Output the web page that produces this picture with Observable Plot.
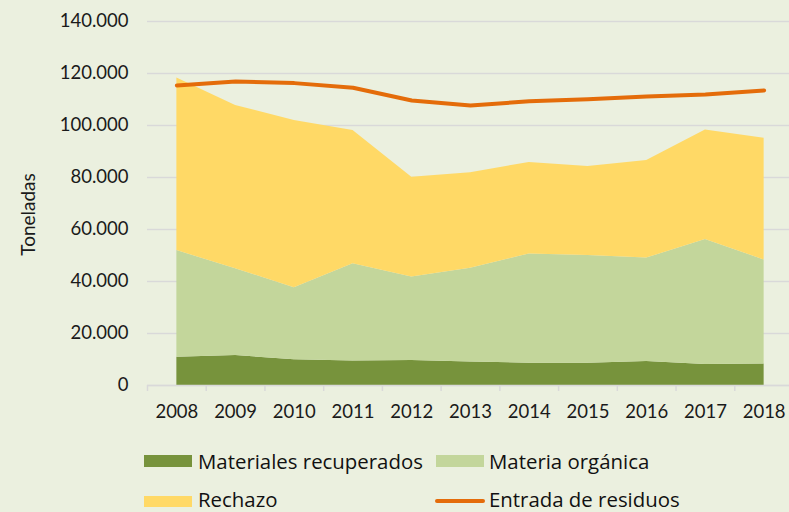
<!DOCTYPE html>
<html><head><meta charset="utf-8">
<script src="https://cdn.jsdelivr.net/npm/d3@7"></script>
<script src="https://cdn.jsdelivr.net/npm/@observablehq/plot@0.6"></script>
<style>
html,body{margin:0;padding:0;background:#ebf0df;overflow:hidden}
#wrap{position:relative;width:789px;height:512px;background:#ebf0df;overflow:hidden}
#wrap svg{position:absolute;left:0;top:0}
.lg{position:absolute;height:20px;line-height:20px;font-family:"Open Sans";font-size:20.4px;color:#111;white-space:nowrap}
.sw{position:absolute}
</style></head><body><div id="wrap"></div>
<script>
const years = [2008, 2009, 2010, 2011, 2012, 2013, 2014, 2015, 2016, 2017, 2018];
const recuperados = [10900, 11500, 9900, 9400, 9600, 9000, 8600, 8600, 9200, 8100, 8300];
const organica = [41000, 33400, 27700, 37400, 32100, 36100, 42000, 41400, 39800, 48100, 40000];
const rechazo = [66400, 62800, 64300, 51300, 38400, 36700, 35200, 34200, 37500, 42100, 46800];
const entrada = [115400, 116900, 116300, 114500, 109600, 107700, 109300, 110100, 111200, 111900, 113500];
const seriesNames = ["Materiales recuperados", "Materia orgánica", "Rechazo"];
const seriesColors = ["#77933c", "#c3d69b", "#ffd966"];
const lineName = "Entrada de residuos";
const lineColor = "#e46c0a";
const yTicks = [0, 20000, 40000, 60000, 80000, 100000, 120000, 140000];
const yTitle = "Toneladas";

const fmt = d3.formatLocale({decimal: ",", thousands: ".", grouping: [3], currency: ["", "€"]}).format(",");
const seriesValues = [recuperados, organica, rechazo];
const long = [];
seriesNames.forEach((s, i) => years.forEach((y, j) => long.push({year: y, series: s, value: seriesValues[i][j]})));
const boundaries = d3.range(years[0] - 0.5, years[years.length - 1] + 1, 1);
const lineData = years.map((y, i) => ({year: y, value: entrada[i]}));

const plot = Plot.plot({
  width: 789, height: 430,
  marginLeft: 147, marginRight: 0, marginTop: 21, marginBottom: 45,
  style: {background: "#ebf0df", fontFamily: "Lato", fontSize: "18.5px", color: "#1a1a1a"},
  x: {domain: [years[0] - 0.5, years[years.length - 1] + 0.5], range: [147, 793]},
  y: {domain: [0, 140000], range: [385, 21]},
  color: {domain: seriesNames, range: seriesColors},
  marks: [
    Plot.gridY({ticks: yTicks, stroke: "#d9d9d9", strokeOpacity: 1, strokeWidth: 1.5}),
    Plot.areaY(long, {x: "year", y: "value", fill: "series", z: "series"}),
    Plot.ruleY([0], {stroke: "#d9d9d9", strokeWidth: 1.5}),
    Plot.axisX({ticks: boundaries, tickSize: 6, tickFormat: () => "", stroke: "#d9d9d9", strokeWidth: 1.5, label: null}),
    Plot.axisX({ticks: years, tickSize: 0, tickPadding: 19, tickFormat: d => String(d), label: null}),
    Plot.axisY({ticks: yTicks, tickSize: 0, tickPadding: 19, tickFormat: fmt, label: null}),
    Plot.lineY(lineData, {x: "year", y: "value", stroke: lineColor, strokeWidth: 4, strokeLinecap: "round", strokeLinejoin: "round"}),
    Plot.text([yTitle], {frameAnchor: "left", dx: -119, dy: 11, rotate: -90, textAnchor: "middle", lineAnchor: "middle", fontSize: 19, text: d => d})
  ]
});
const wrap = document.getElementById("wrap");
wrap.appendChild(plot);

function addSwatch(left, top, w, h, color, radius) {
  const d = document.createElement("div");
  d.className = "sw";
  Object.assign(d.style, {left: left + "px", top: top + "px", width: w + "px", height: h + "px", background: color, borderRadius: (radius || 0) + "px"});
  wrap.appendChild(d);
}
function addLabel(left, center, text) {
  const d = document.createElement("div");
  d.className = "lg";
  d.textContent = text;
  Object.assign(d.style, {left: left + "px", top: (center - 10) + "px"});
  wrap.appendChild(d);
}
addSwatch(144, 455, 48, 12, seriesColors[0]); addLabel(198, 461, seriesNames[0]);
addSwatch(436, 455, 48, 12, seriesColors[1]); addLabel(489, 461, seriesNames[1]);
addSwatch(144, 496, 48, 11, seriesColors[2]); addLabel(198, 499, seriesNames[2]);
addSwatch(435, 499, 50, 4, lineColor, 2); addLabel(489, 499, lineName);
</script></body></html>
